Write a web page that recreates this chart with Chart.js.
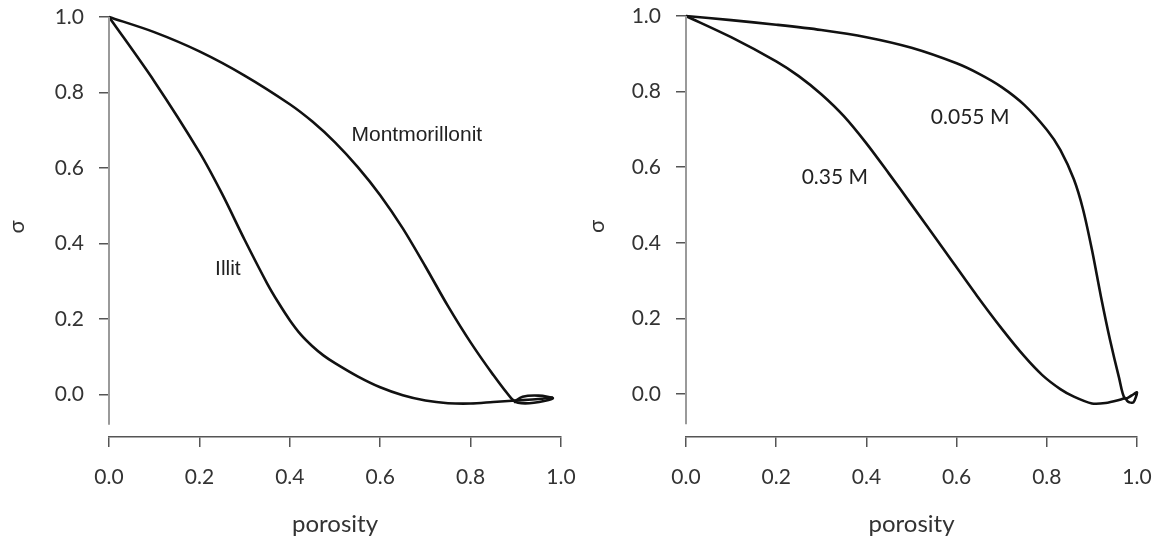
<!DOCTYPE html>
<html>
<head>
<meta charset="utf-8">
<script src="https://cdn.jsdelivr.net/npm/chart.js@4/dist/chart.umd.min.js"></script>
<style>
  html, body { margin: 0; padding: 0; background: #fff; }
  #wrap { width: 1160px; height: 540px; display: flex; }
  .box { width: 580px; height: 540px; position: relative; }
</style>
</head>
<body>
<div id="wrap">
  <div class="box"><canvas id="left"></canvas></div>
  <div class="box"><canvas id="right"></canvas></div>
</div>
<script>
// ---- data ----
const xTicks = [0.0, 0.2, 0.4, 0.6, 0.8, 1.0];
const yTicks = [0.0, 0.2, 0.4, 0.6, 0.8, 1.0];
const xTitle = 'porosity';
const yTitle = 'σ';

// left panel: Illit
const illitX = [0, 0.1, 0.2, 0.25, 0.3, 0.35, 0.375, 0.4, 0.425, 0.45, 0.475, 0.5, 0.55, 0.6, 0.65, 0.7, 0.75, 0.8, 0.85, 0.9, 0.95, 0.982];
const illitY = [1.0, 0.83, 0.642, 0.532, 0.41, 0.294, 0.243, 0.197, 0.158, 0.128, 0.103, 0.083, 0.048, 0.019, -0.002, -0.016, -0.023, -0.024, -0.02, -0.016, -0.012, -0.008];
// left panel: Montmorillonit
const montX = [0, 0.1, 0.2, 0.3, 0.4, 0.45, 0.5, 0.55, 0.6, 0.65, 0.7, 0.75, 0.8, 0.85, 0.89, 0.905, 0.94, 0.982, 0.95, 0.915, 0.895];
const montY = [1.0, 0.96, 0.909, 0.845, 0.769, 0.723, 0.668, 0.603, 0.528, 0.44, 0.339, 0.234, 0.138, 0.052, -0.01, -0.022, -0.022, -0.01, -0.003, -0.006, -0.02];
// right panel: 0.35 M
const m035X = [0, 0.1, 0.2, 0.25, 0.3, 0.35, 0.4, 0.45, 0.5, 0.57, 0.645, 0.7, 0.75, 0.79, 0.83, 0.86, 0.9, 0.93, 0.96, 0.975];
const m035Y = [1.0, 0.944, 0.88, 0.841, 0.793, 0.735, 0.663, 0.583, 0.501, 0.385, 0.26, 0.173, 0.1, 0.05, 0.013, -0.007, -0.025, -0.024, -0.016, -0.01];
// right panel: 0.055 M
const m0055X = [0, 0.1, 0.2, 0.3, 0.4, 0.5, 0.6, 0.65, 0.7, 0.75, 0.8, 0.83, 0.86, 0.88, 0.9, 0.92, 0.94, 0.96, 0.973, 0.988, 1.0, 0.992, 0.98, 0.974];
const m0055Y = [1.0, 0.989, 0.977, 0.963, 0.944, 0.916, 0.875, 0.847, 0.812, 0.765, 0.699, 0.646, 0.568, 0.49, 0.382, 0.258, 0.144, 0.044, -0.012, -0.004, 0.004, -0.022, -0.02, -0.01];

const leftNames = ['Illit', 'Montmorillonit'];
const rightNames = ['0.35 M', '0.055 M'];

// ---- helpers ----
function pts(xs, ys) { return xs.map((x, i) => ({ x: x, y: ys[i] })); }

const textPlugin = {
  id: 'curveText',
  afterDatasetsDraw(chart, args, opts) {
    const ctx = chart.ctx;
    const xs = chart.scales.x, ys = chart.scales.y;
    ctx.save();
    ctx.textAlign = 'center';
    ctx.textBaseline = 'middle';
    (opts.items || []).forEach(it => {
      ctx.font = it.font;
      ctx.fillStyle = it.color;
      ctx.fillText(it.text, xs.getPixelForValue(it.x), ys.getPixelForValue(it.y));
    });
    ctx.restore();
  }
};

const yAxisLine = {
  id: 'yAxisLine',
  afterDraw(chart, args, opts) {
    const ctx = chart.ctx;
    const ys = chart.scales.y;
    const x = chart.chartArea.left;
    ctx.save();
    ctx.strokeStyle = opts.color;
    ctx.lineWidth = opts.width;
    ctx.beginPath();
    ctx.moveTo(x, ys.getPixelForValue(opts.from));
    ctx.lineTo(x, ys.getPixelForValue(opts.to));
    ctx.stroke();
    ctx.restore();
  }
};

function makeChart(id, series, cfg) {
  const tickFont = { family: 'Lato', size: 21 };
  return new Chart(document.getElementById(id), {
    type: 'scatter',
    data: {
      datasets: series.map(s => ({
        label: s.name,
        data: pts(s.x, s.y),
        showLine: true,
        borderColor: '#111',
        borderWidth: 2.6,
        pointRadius: 0,
        pointHoverRadius: 0,
        tension: 0.3,
        clip: false
      }))
    },
    options: {
      responsive: true,
      maintainAspectRatio: false,
      animation: false,
      events: [],
      layout: { padding: { top: cfg.top, right: cfg.right, left: 0, bottom: 0 } },
      plugins: {
        legend: { display: false },
        tooltip: { enabled: false },
        curveText: { items: cfg.labels },
        yAxisLine: { color: '#9a9a9a', width: 2, from: 1.0, to: -0.08 }
      },
      scales: {
        x: {
          type: 'linear',
          min: 0, max: 1,
          afterBuildTicks: sc => { sc.ticks = xTicks.map(v => ({ value: v })); },
          afterFit: sc => { sc.height = 103; sc.paddingLeft = 0; sc.paddingRight = 0; },
          ticks: {
            font: tickFont, color: '#333', padding: 18,
            callback: v => Number(v).toFixed(1), maxRotation: 0, autoSkip: false
          },
          grid: { drawOnChartArea: false, drawTicks: true, tickLength: 10, color: '#555', lineWidth: 1.5 },
          border: { display: true, color: '#555', width: 1.5 },
          title: { display: true, text: xTitle, font: { family: 'Lato', size: 24 }, color: '#333', padding: { top: 1, bottom: 1 } }
        },
        y: {
          type: 'linear',
          min: cfg.ymin, max: 1.0,
          afterBuildTicks: sc => { sc.ticks = yTicks.map(v => ({ value: v })); },
          afterFit: sc => { sc.width = cfg.yWidth; sc.paddingTop = 0; sc.paddingBottom = 0; },
          ticks: {
            font: tickFont, color: '#333', padding: 15,
            callback: v => Number(v).toFixed(1), autoSkip: false
          },
          grid: { drawOnChartArea: false, drawTicks: true, tickLength: 10, color: '#555', lineWidth: 1.5 },
          border: { display: false },
          title: { display: true, text: yTitle, font: { family: 'Lato', size: 22 }, color: '#333', padding: { top: 4, bottom: 4 } }
        }
      }
    },
    plugins: [textPlugin, yAxisLine]
  });
}

makeChart('left', [
  { name: leftNames[0], x: illitX, y: illitY },
  { name: leftNames[1], x: montX, y: montY }
], {
  top: 17, right: 19, yWidth: 109, ymin: -0.1126,
  labels: [
    { text: leftNames[1], x: 0.681, y: 0.686, font: '21px "Liberation Sans"', color: '#222' },
    { text: leftNames[0], x: 0.263, y: 0.331, font: '21px "Liberation Sans"', color: '#222' }
  ]
});

makeChart('right', [
  { name: rightNames[0], x: m035X, y: m035Y },
  { name: rightNames[1], x: m0055X, y: m0055Y }
], {
  top: 16, right: 23, yWidth: 106, ymin: -0.1138,
  labels: [
    { text: rightNames[0], x: 0.330, y: 0.574, font: '21px Lato', color: '#222' },
    { text: rightNames[1], x: 0.630, y: 0.733, font: '21px Lato', color: '#222' }
  ]
});
</script>
</body>
</html>
